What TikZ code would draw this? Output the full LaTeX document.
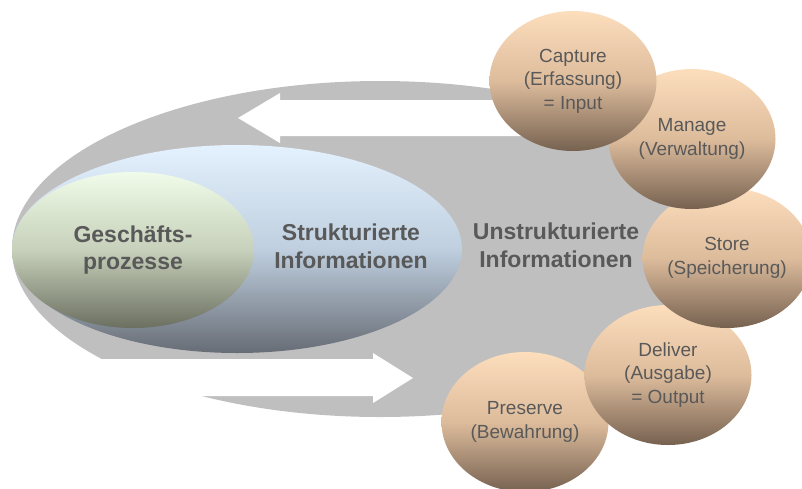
\documentclass[tikz,border=0pt]{standalone}
\usepackage{fontspec}
\setmainfont{Liberation Sans}
\usepackage{tikz}
\usetikzlibrary{positioning,shapes.geometric}
\usepackage{xcolor}

\definecolor{ringgray}{HTML}{BFBFBF}
\definecolor{txtgray}{HTML}{595959}
\definecolor{peachtop}{HTML}{FCDDBC}
\definecolor{peachmid}{HTML}{DDBC9C}
\definecolor{peachbot}{HTML}{766150}
\definecolor{bluetop}{HTML}{E4F1FE}
\definecolor{bluemid}{HTML}{BFCFDF}
\definecolor{bluebot}{HTML}{676C75}
\definecolor{greentop}{HTML}{F0FCE9}
\definecolor{greenmid}{HTML}{C6D0BA}
\definecolor{greenbot}{HTML}{6B6F60}

\begin{document}
\begin{tikzpicture}[x=1pt, y=-1pt,
  phase/.style={ellipse, minimum width=167pt, minimum height=140pt, inner sep=0pt,
                top color=peachtop, bottom color=peachbot, middle color=peachmid,
                align=center, text=txtgray, font=\fontsize{19}{23.5}\selectfont},
  area/.style={ellipse, inner sep=0pt},
  head/.style={align=center, text=txtgray, font=\fontsize{23}{27.6}\selectfont\bfseries},
]
\useasboundingbox (0,0) rectangle (802,488);

%% Gray ring with the two white arrows cut in
\node[area, fill=ringgray, minimum width=736pt, minimum height=336pt] (ring) at (380,249) {};

% arrow back to the left (top)
\fill[white] (560,100) -- (280,100) -- (280,93) -- (238,118) -- (280,143)
  -- (280,136) -- (560,136) -- cycle;
% arrow out to the right (bottom)
\fill[white] (0,359) -- (373,359) -- (373,353) -- (413,378) -- (373,403)
  -- (373,396) -- (0,396) -- cycle;

%% Nested areas
\node[area, minimum width=450pt, minimum height=208pt,
      top color=bluetop, bottom color=bluebot, middle color=bluemid] (struct) at (237,249) {};
\node[area, minimum width=242pt, minimum height=156pt,
      top color=greentop, bottom color=greenbot, middle color=greenmid,
      head] (gp) at (133,250) {Geschäfts-\\prozesse};

\node[head] (structlbl)   at (351,246) {Strukturierte\\Informationen};
\node[head] (unstructlbl) at (556,245) {Unstrukturierte\\Informationen};

%% Phases
\node[phase] (preserve) at (525,422) {Preserve\\(Bewahrung)};
\node[phase] (deliver)  at (668,375) {Deliver\\(Ausgabe)\\= Output};
\node[phase] (store)    at (727,258) {Store\\(Speicherung)};
\node[phase] (manage)   at (692,139) {Manage\\(Verwaltung)};
\node[phase] (capture)  at (573,81)  {Capture\\(Erfassung)\\= Input};

\end{tikzpicture}
\end{document}
